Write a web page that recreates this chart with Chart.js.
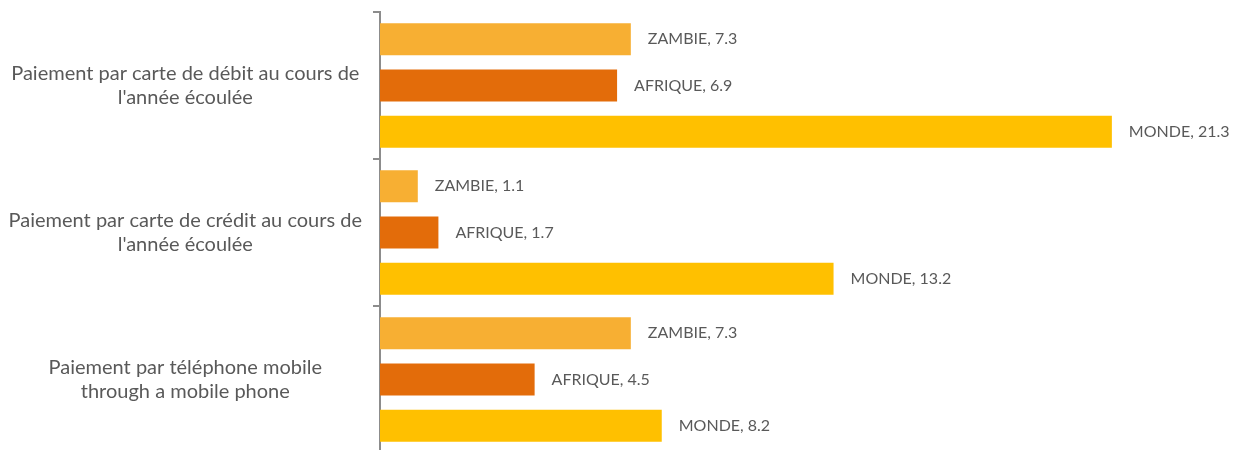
<!DOCTYPE html>
<html>
<head>
<meta charset="utf-8">
<script src="https://cdn.jsdelivr.net/npm/chart.js@4/dist/chart.umd.min.js"></script>
<style>
  html, body { margin: 0; padding: 0; background: #fff; overflow: hidden; }
  .container { width: 1239px; height: 456px; }
</style>
</head>
<body>
<div class="container">
  <canvas id="myChart"></canvas>
</div>
<script>
const categories = [
  ['Paiement par carte de débit au cours de', "l'année écoulée"],
  ['Paiement par carte de crédit au cours de', "l'année écoulée"],
  ['Paiement par téléphone mobile', 'through a mobile phone']
]
const zambie = [7.3, 1.1, 7.3]
const afrique = [6.9, 1.7, 4.5]
const monde = [21.3, 13.2, 8.2]

const textColor = '#595959'
const axisColor = '#8c8c8c'

// writes "SERIE, value" just right of each bar
const barLabels = {
  id: 'barLabels',
  afterDatasetsDraw(chart) {
    const ctx = chart.ctx
    ctx.save()
    ctx.font = '16px Lato'
    ctx.fillStyle = textColor
    ctx.textAlign = 'left'
    ctx.textBaseline = 'middle'
    chart.data.datasets.forEach((ds, i) => {
      chart.getDatasetMeta(i).data.forEach((bar, j) => {
        ctx.fillText(ds.label + ', ' + ds.data[j].toFixed(1), bar.x + 17, bar.y)
      })
    })
    ctx.restore()
  }
}

const data = {
  labels: categories,
  datasets: [{
    label: 'ZAMBIE',
    data: zambie,
    backgroundColor: '#F7AF33'
  }, {
    label: 'AFRIQUE',
    data: afrique,
    backgroundColor: '#E36C0A'
  }, {
    label: 'MONDE',
    data: monde,
    backgroundColor: '#FFC000'
  }]
}

const config = {
  type: 'bar',
  data: data,
  plugins: [barLabels],
  options: {
    indexAxis: 'y',
    responsive: true,
    maintainAspectRatio: false,
    animation: false,
    layout: { padding: { top: 12, bottom: 3, right: 0, left: 0 } },
    datasets: {
      bar: { categoryPercentage: 0.945, barPercentage: 0.69 }
    },
    plugins: {
      legend: { display: false },
      tooltip: { enabled: false }
    },
    scales: {
      x: {
        display: false,
        min: 0,
        max: 25
      },
      y: {
        afterFit(scale) {
          scale.width = 380
          scale.paddingTop = 0
          scale.paddingBottom = 0
        },
        border: { display: true, color: axisColor, width: 2 },
        grid: {
          drawOnChartArea: false,
          drawTicks: true,
          tickLength: 7,
          color: axisColor,
          lineWidth: 2
        },
        ticks: {
          crossAlign: 'center',
          padding: 11,
          color: textColor,
          font: { family: 'Lato', size: 20, lineHeight: 1.17 }
        }
      }
    }
  }
}

new Chart(document.getElementById('myChart'), config)
</script>
</body>
</html>
